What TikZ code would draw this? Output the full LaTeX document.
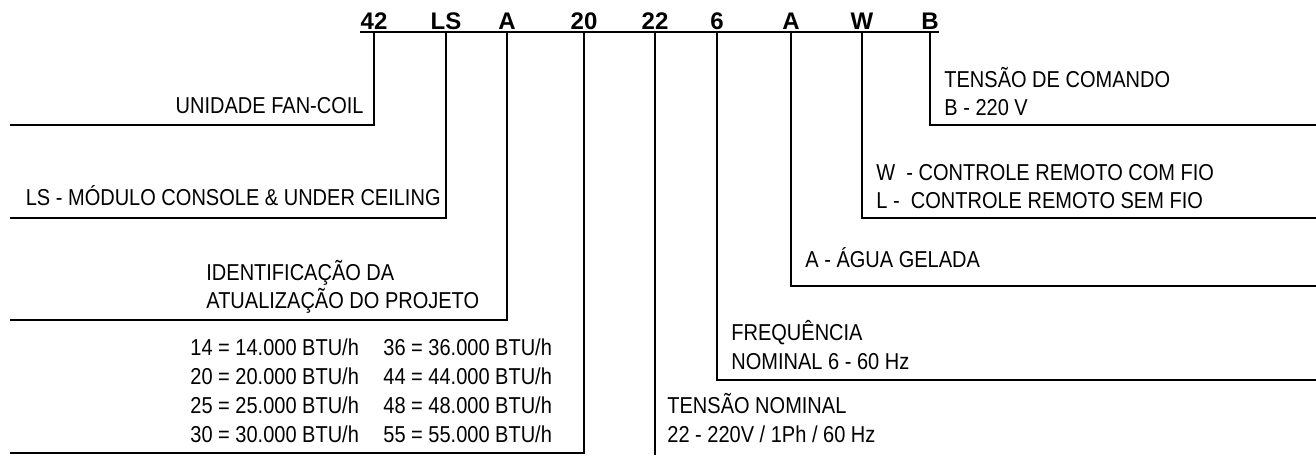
\documentclass[tikz,border=0pt]{standalone}
\usepackage{fontspec}
\setmainfont{Liberation Sans}
\newfontfamily\narrowfont[FakeStretch=0.87]{Liberation Sans}
\begin{document}
\begin{tikzpicture}[x=0.5pt,y=-0.5pt,
  lbl/.style={font=\fontsize{12pt}{14pt}\selectfont\bfseries, inner sep=0pt, anchor=base},
  txtl/.style={font=\narrowfont\fontsize{11.5pt}{13pt}\selectfont, inner sep=0pt, anchor=base west},
  txtr/.style={font=\narrowfont\fontsize{11.5pt}{13pt}\selectfont, inner sep=0pt, anchor=base east},
  ln/.style={line width=1pt},
  topln/.style={line width=1.3pt}]
\useasboundingbox (0,0) rectangle (1316,455);

% header code
\node[lbl] (h1) at (374,29) {42};
\node[lbl] (h2) at (446,29) {LS};
\node[lbl] (h3) at (507,29) {A};
\node[lbl] (h4) at (584,29) {20};
\node[lbl] (h5) at (655,29) {22};
\node[lbl] (h6) at (717,29) {6};
\node[lbl] (h7) at (791,29) {A};
\node[lbl] (h8) at (862,29) {W};
\node[lbl] (h9) at (930,29) {B};

\coordinate (ul) at (360,32);
\coordinate (ur) at (939,32);
\draw[topln] (ul) -- (ur);

% end points of the connectors
\coordinate (e1) at (10,125);
\coordinate (e2) at (10,218);
\coordinate (e3) at (10,320);
\coordinate (e4) at (10,453);
\coordinate (e5) at (655,455);
\coordinate (e6) at (1316,380);
\coordinate (e7) at (1316,286);
\coordinate (e8) at (1316,218);
\coordinate (e9) at (1316,125);

\draw[ln] (h1.base |- ul) |- (e1);
\draw[ln] (h2.base |- ul) |- (e2);
\draw[ln] (h3.base |- ul) |- (e3);
\draw[ln] (h4.base |- ul) |- (e4);
\draw[ln] (h5.base |- ul) -- (h5.base |- e5);
\draw[ln] (h6.base |- ul) |- (e6);
\draw[ln] (h7.base |- ul) |- (e7);
\draw[ln] (h8.base |- ul) |- (e8);
\draw[ln] (h9.base |- ul) |- (e9);

% texts, left side
\node[txtr] (t1) at (364,113) {UNIDADE FAN-COIL};
\node[txtr] (t2) at (441,205) {LS - MÓDULO CONSOLE \& UNDER CEILING};
\node[txtl] (t3a) at (206,280) {IDENTIFICAÇÃO DA};
\node[txtl] (t3b) at (206,308) {ATUALIZAÇÃO DO PROJETO};
\node[txtl] (t4a) at (190,355) {14 = 14.000 BTU/h};
\node[txtl] (t4b) at (190,384) {20 = 20.000 BTU/h};
\node[txtl] (t4c) at (190,413) {25 = 25.000 BTU/h};
\node[txtl] (t4d) at (190,442) {30 = 30.000 BTU/h};
\node[txtl] (t4e) at (383,355) {36 = 36.000 BTU/h};
\node[txtl] (t4f) at (383,384) {44 = 44.000 BTU/h};
\node[txtl] (t4g) at (383,413) {48 = 48.000 BTU/h};
\node[txtl] (t4h) at (383,442) {55 = 55.000 BTU/h};

% texts, right side
\node[txtl] (t5a) at (667,413) {TENSÃO NOMINAL};
\node[txtl] (t5b) at (667,442) {22 - 220V / 1Ph / 60 Hz};
\node[txtl] (t6a) at (731,340) {FREQUÊNCIA};
\node[txtl] (t6b) at (731,369) {NOMINAL 6 - 60 Hz};
\node[txtl] (t7) at (805,267) {A - ÁGUA GELADA};
\node[txtl] (t8a) at (876,180) {W\ \ - CONTROLE REMOTO COM FIO};
\node[txtl] (t8b) at (876,208) {L -\ \ CONTROLE REMOTO SEM FIO};
\node[txtl] (t9a) at (944,87) {TENSÃO DE COMANDO};
\node[txtl] (t9b) at (944,115) {B - 220 V};
\end{tikzpicture}
\end{document}
